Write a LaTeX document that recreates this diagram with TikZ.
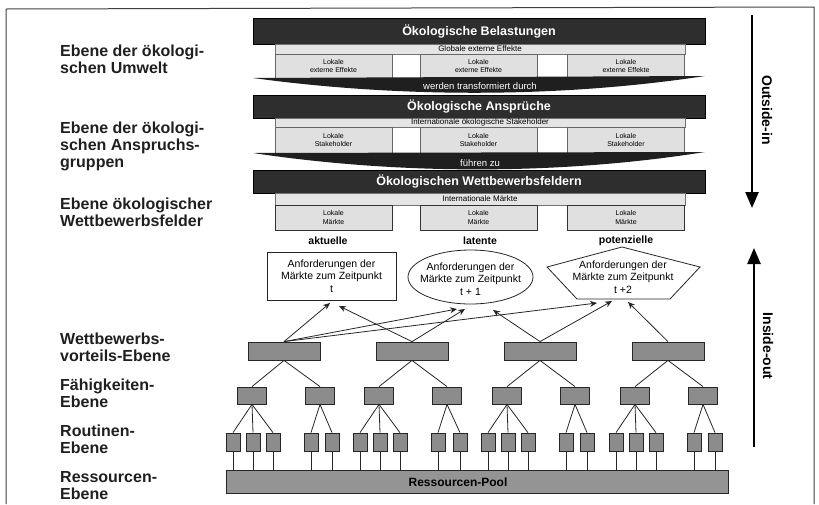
\documentclass[tikz,border=0pt]{standalone}
\usepackage{fontspec}
\setmainfont{Liberation Sans}
\usetikzlibrary{arrows.meta,shapes.geometric}
\begin{document}
\begin{tikzpicture}[x=1pt,y=-1pt,
  lvl/.style={font=\bfseries\fontsize{16}{17}\selectfont, anchor=north west, align=left, inner sep=0pt, text=black!88},
  darkbar/.style={fill=black!82, draw=black, minimum width=452pt, font=\bfseries\fontsize{12.5}{14}\selectfont, text=white, inner sep=0pt},
  band/.style={fill=black!10, draw=black!55, minimum width=410pt, font=\fontsize{8}{8}\selectfont, inner sep=0pt},
  lokal/.style={fill=black!12, draw=black!60, minimum width=117pt, font=\fontsize{7}{8.5}\selectfont, align=center, inner sep=0pt},
  wedgetext/.style={font=\fontsize{9.5}{11}\selectfont, text=white, inner sep=0pt},
  wedgefill/.style={fill=black!88},
  kind/.style={font=\bfseries\fontsize{10.5}{12}\selectfont, inner sep=0pt},
  req/.style={font=\fontsize{10.5}{12.5}\selectfont, align=center, inner sep=0pt},
  vbox/.style={fill=black!45, draw=black!85, line width=0.8pt, minimum width=72pt, minimum height=18pt, inner sep=0pt},
  fbox/.style={fill=black!45, draw=black!85, line width=0.8pt, minimum width=29pt, minimum height=17pt, inner sep=0pt},
  rbox/.style={fill=black!45, draw=black!85, line width=0.8pt, minimum width=14pt, minimum height=18pt, inner sep=0pt},
  poolbox/.style={fill=black!42, draw=black!85, line width=0.8pt, minimum width=502pt, minimum height=23pt, inner sep=0pt},
  conn/.style={draw=black!85, line width=0.8pt},
  arr/.style={conn, -{Stealth[length=7pt,width=6pt]}},
  bigarrow/.style={line width=2.5pt, -{Triangle[length=16pt,width=13pt]}},
  sidetext/.style={font=\bfseries\fontsize{14}{16}\selectfont, rotate=-90, inner sep=0pt}
]
\useasboundingbox (0,0) rectangle (819,504);
\draw[line width=1pt, black!75] (6,504) -- (6,9) -- (814,7) -- (814,504);

% left labels
\node[lvl] (l1) at (60,45) {Ebene der ökologi-\\schen Umwelt};
\node[lvl] (l2) at (60,122) {Ebene der ökologi-\\schen Anspruchs-\\gruppen};
\node[lvl] (l3) at (60,198) {Ebene ökologischer\\Wettbewerbsfelder};
\node[lvl] (l4) at (60,333) {Wettbewerbs-\\vorteils-Ebene};
\node[lvl] (l5) at (60,379) {Fähigkeiten-\\Ebene};
\node[lvl] (l6) at (60,425) {Routinen-\\Ebene};
\node[lvl] (l7) at (60,471) {Ressourcen-\\Ebene};

% level 1: environment
\node[darkbar, minimum height=26pt] (bar1) at (479,31) {Ökologische Belastungen};
\node[band, minimum height=10pt] (band1) at (480,49) {Globale externe Effekte};
\node[lokal, minimum height=24pt] (a1) at (333.5,66) {Lokale\\externe Effekte};
\node[lokal, minimum height=24pt] (a2) at (478.5,66) {Lokale\\externe Effekte};
\node[lokal, minimum height=24pt] (a3) at (626,66) {Lokale\\externe Effekte};
\fill[wedgefill] (253,78) .. controls (400,98) and (560,98) .. (705,76) -- cycle;
\node[wedgetext] (w1t) at (480,86) {werden transformiert durch};

% level 2: stakeholders
\node[darkbar, minimum height=23pt] (bar2) at (479,106.5) {Ökologische Ansprüche};
\node[band, minimum height=9pt] (band2) at (480,122.5) {Internationale ökologische Stakeholder};
\node[lokal, minimum height=26pt] (s1) at (333.5,140) {Lokale\\Stakeholder};
\node[lokal, minimum height=26pt] (s2) at (478.5,140) {Lokale\\Stakeholder};
\node[lokal, minimum height=26pt] (s3) at (626,140) {Lokale\\Stakeholder};
\fill[wedgefill] (253,153) .. controls (400,175) and (560,175) .. (705,152) -- cycle;
\node[wedgetext] (w2t) at (480,163) {führen zu};

% level 3: markets
\node[darkbar, minimum height=23pt] (bar3) at (479,181.5) {Ökologischen Wettbewerbsfeldern};
\node[band, minimum height=12pt] (band3) at (480,199) {Internationale Märkte};
\node[lokal, draw=black!80, minimum height=25pt] (m1) at (333.5,217.5) {Lokale\\Märkte};
\node[lokal, draw=black!80, minimum height=25pt] (m2) at (478.5,217.5) {Lokale\\Märkte};
\node[lokal, draw=black!80, minimum height=25pt] (m3) at (626,217.5) {Lokale\\Märkte};

\node[kind] (k1) at (328,241) {aktuelle};
\node[kind] (k2) at (480,241) {latente};
\node[kind] (k3) at (626,241) {potenzielle};

% requirement shapes
\node[draw=black!85, line width=0.8pt, minimum width=129pt, minimum height=48pt, req] (rq1) at (331.5,276) {Anforderungen der\\Märkte zum Zeitpunkt\\t};
\draw[black!85, line width=0.8pt] (470.5,277) ellipse [x radius=62.5, y radius=27];
\node[req] (rq2) at (470.5,279) {Anforderungen der\\Märkte zum Zeitpunkt\\t + 1};
\draw[black!85, line width=0.8pt] (622,247) -- (700,267) -- (670,299) -- (577,299) -- (547,267) -- cycle;
\node[req] (rq3) at (623,277) {Anforderungen der\\Märkte zum Zeitpunkt\\t +2};

% hierarchy boxes
\foreach \i/\x in {1/284,2/412,3/540,4/668} {\node[vbox] (v\i) at (\x,351) {};}
\foreach \i/\x in {1/252,2/320,3/379,4/447,5/507,6/575,7/635,8/703} {\node[fbox] (f\i) at (\x,395.5) {};}
\foreach \i/\x in {1/233,2/253,3/273,4/311,5/332,6/360,7/380,8/400,9/438,10/460,11/488,12/508,13/528,14/566,15/587,16/616,17/636,18/656,19/694,20/715} {\node[rbox] (r\i) at (\x,442) {};}
\node[poolbox] (pool) at (477,481.5) {};
\node[font=\bfseries\fontsize{12}{14}\selectfont, inner sep=0pt] (pooltext) at (458,482) {Ressourcen-Pool};

% tree connectors
\foreach \a/\b in {1/1,1/2,2/3,2/4,3/5,3/6,4/7,4/8} {\draw[conn] (v\a.south) -- (f\b.north);}
\foreach \a/\b in {1/1,1/2,1/3,2/4,2/5,3/6,3/7,3/8,4/9,4/10,5/11,5/12,5/13,6/14,6/15,7/16,7/17,7/18,8/19,8/20} {\draw[conn] (f\a.south) -- (r\b.north);}
\foreach \b in {1,...,20} {\draw[conn] (r\b.south) -- (r\b.south |- pool.north);}

% arrows to requirements
\coordinate (t1) at (330,303);
\coordinate (t2) at (339,306);
\coordinate (e1) at (457,309);
\coordinate (e2) at (465,309);
\coordinate (e3) at (493,310);
\coordinate (p1) at (597,303);
\coordinate (p2) at (612,301);
\coordinate (p3) at (628,302);
\draw[arr] (v1.north) -- (t1);
\draw[arr] (v1.north) -- (e1);
\draw[arr] (v1.north) -- (p1);
\draw[arr] (v2.north) -- (t2);
\draw[arr] (v2.north) -- (e2);
\draw[arr] (v3.north) -- (e3);
\draw[arr] (v3.north) -- (p2);
\draw[arr] (v4.north) -- (p3);

% side arrows
\coordinate (oa) at (752,15);
\coordinate (ob) at (752,208);
\draw[bigarrow] (oa) -- (ob);
\node[sidetext] (ot) at (767,110) {Outside-in};
\coordinate (ia) at (754,447);
\coordinate (ib) at (754,248);
\draw[bigarrow] (ia) -- (ib);
\node[sidetext] (it) at (768,346) {Inside-out};
\end{tikzpicture}
\end{document}
